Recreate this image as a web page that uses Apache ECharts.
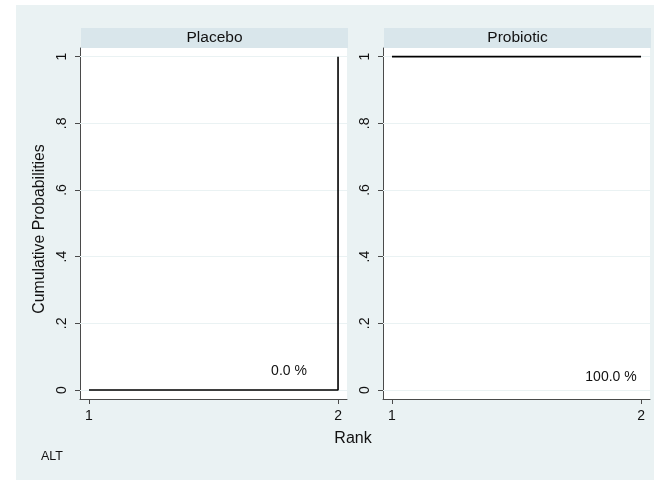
<!DOCTYPE html>
<html>
<head>
<meta charset="utf-8">
<script src="https://cdn.jsdelivr.net/npm/echarts@6/dist/echarts.min.js"></script>
<style>
  html, body { margin: 0; padding: 0; background: #ffffff; }
  #chart { width: 654px; height: 480px; }
</style>
</head>
<body>
<div id="chart"></div>
<script>
// Cumulative ranking curves (SUCRA) for the ALT outcome
const treatments = ['Placebo', 'Probiotic'];
const ranks = [1, 2];
const cumPlacebo = [0, 1];
const cumProbiotic = [1, 1];
const sucra = [0.0, 100.0];
const yTicks = [0, 0.2, 0.4, 0.6, 0.8, 1];
const yTickLabels = ['0', '.2', '.4', '.6', '.8', '1'];
const xTicks = [1, 2];
const outcome = 'ALT';

const FONT = '"Liberation Sans", Arial, sans-serif';
const BG = '#eaf2f3';
const STRIP = '#d9e6eb';
const AXIS = '#4a4a4a';

const series = [cumPlacebo, cumProbiotic];

const panels = [
  { left: 80, top: 48, width: 267, height: 351 },
  { left: 383, top: 48, width: 267, height: 351 }
];

const chart = echarts.init(document.getElementById('chart'), null, { renderer: 'canvas' });

const grids = panels.map(p => ({
  left: p.left, top: p.top, width: p.width, height: p.height,
  show: true, backgroundColor: '#ffffff', borderWidth: 0, containLabel: false
}));

const xAxes = panels.map((p, i) => ({
  type: 'value', gridIndex: i, min: 0.964, max: 2.036,
  axisLine: { show: true, onZero: false, lineStyle: { color: AXIS, width: 1 } },
  axisTick: { show: true, length: 5, customValues: xTicks, lineStyle: { color: AXIS } },
  axisLabel: { customValues: xTicks, formatter: v => String(v), margin: 10,
    fontFamily: FONT, fontSize: 14, color: '#111' },
  splitLine: { show: false }
}));

const yAxes = panels.map((p, i) => ({
  type: 'value', gridIndex: i, min: -0.027, max: 1.026,
  axisLine: { show: true, onZero: false, lineStyle: { color: AXIS, width: 1 } },
  axisTick: { show: true, length: 5, customValues: yTicks, lineStyle: { color: AXIS } },
  axisLabel: { customValues: yTicks, rotate: 90, margin: 11,
    formatter: v => yTickLabels[yTicks.findIndex(t => Math.abs(t - v) < 1e-9)] ?? '',
    fontFamily: FONT, fontSize: 14, color: '#111' },
  splitLine: { show: false }
}));

const allSeries = [];
panels.forEach((p, i) => {
  // light horizontal gridlines at the y ticks, kept under the curves
  allSeries.push({
    type: 'line', xAxisIndex: i, yAxisIndex: i, data: [], z: 1,
    markLine: {
      silent: true, symbol: 'none', z: 1, label: { show: false },
      lineStyle: { color: BG, width: 1, type: 'solid' },
      data: yTicks.map(t => ({ yAxis: t }))
    }
  });
  allSeries.push({
    name: treatments[i], type: 'line', xAxisIndex: i, yAxisIndex: i, z: 10,
    step: 'end', showSymbol: false, symbol: 'none',
    lineStyle: { color: '#000000', width: 1.6 },
    data: ranks.map((r, k) => [r, series[i][k]])
  });
});

const graphics = [
  { type: 'rect', z: -10, shape: { x: 16, y: 5, width: 654 - 16, height: 480 - 5 }, style: { fill: BG } },
  ...panels.map((p, i) => ({
    type: 'rect', z: -5, shape: { x: p.left + 1, y: 28, width: p.width, height: 20 }, style: { fill: STRIP }
  })),
  ...panels.map((p, i) => ({
    type: 'text', z: 10, x: p.left + 1 + p.width / 2, y: 38,
    style: { text: treatments[i], fontFamily: FONT, fontSize: 15.5, fill: '#111', align: 'center', verticalAlign: 'middle' }
  })),
  { type: 'text', z: 10, x: 289, y: 371,
    style: { text: sucra[0].toFixed(1) + ' %', fontFamily: FONT, fontSize: 14, fill: '#111', align: 'center', verticalAlign: 'middle' } },
  { type: 'text', z: 10, x: 611, y: 377,
    style: { text: sucra[1].toFixed(1) + ' %', fontFamily: FONT, fontSize: 14, fill: '#111', align: 'center', verticalAlign: 'middle' } },
  { type: 'text', z: 10, x: 353, y: 439,
    style: { text: 'Rank', fontFamily: FONT, fontSize: 16, fill: '#111', align: 'center', verticalAlign: 'middle' } },
  { type: 'text', z: 10, x: 40, y: 229, rotation: Math.PI / 2,
    style: { text: 'Cumulative Probabilities', fontFamily: FONT, fontSize: 15.8, fill: '#111', align: 'center', verticalAlign: 'middle' } },
  { type: 'text', z: 10, x: 41, y: 457,
    style: { text: outcome, fontFamily: FONT, fontSize: 12.5, fill: '#111', align: 'left', verticalAlign: 'middle' } }
];

chart.setOption({
  animation: false,
  backgroundColor: '#ffffff',
  grid: grids,
  xAxis: xAxes,
  yAxis: yAxes,
  series: allSeries,
  graphic: graphics
});
</script>
</body>
</html>
